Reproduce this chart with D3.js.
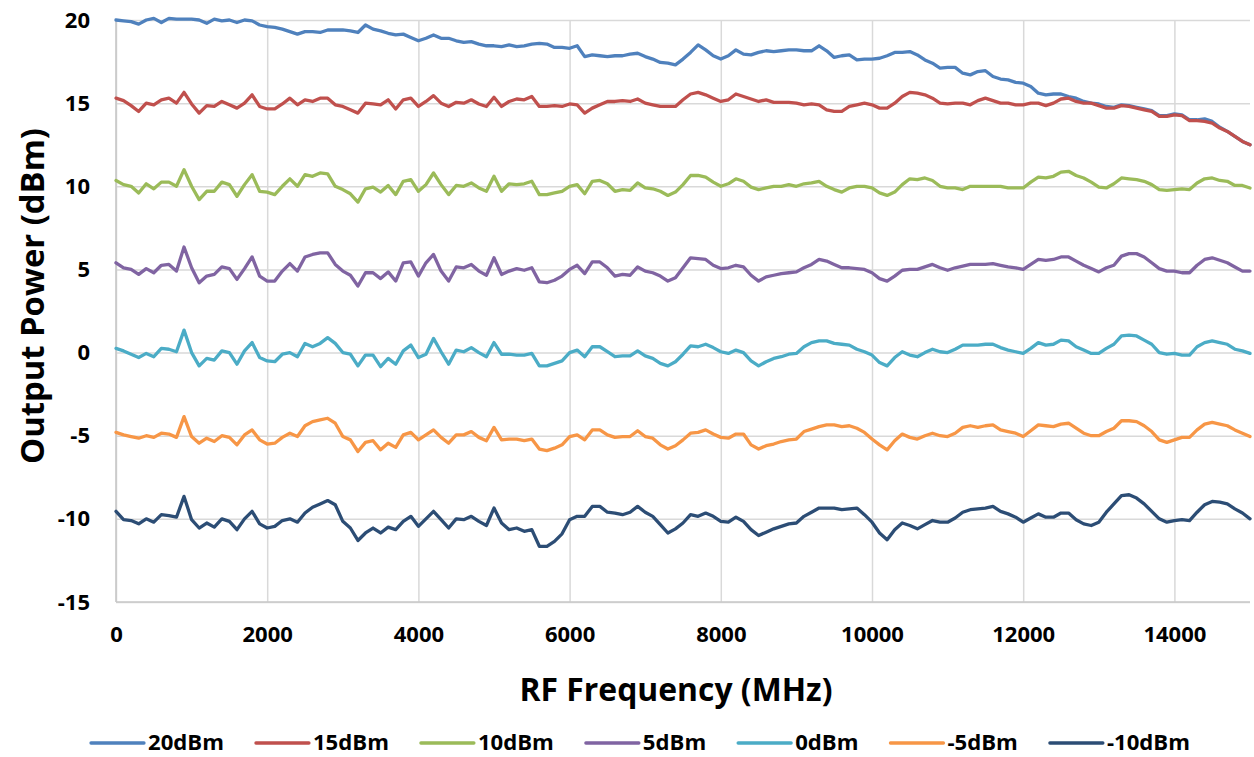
<!DOCTYPE html>
<html>
<head>
<meta charset="utf-8">
<script src="https://cdn.jsdelivr.net/npm/d3@7"></script>
<style>
  body { margin: 0; background: #fff; }
  text { font-family: "Open Sans", sans-serif; font-weight: 700; fill: #000; }
</style>
</head>
<body>
<div id="chart"></div>
<script>
// Data: sweep frequencies (MHz) and measured output power (dBm) per set level
const freq = d3.range(0, 15001, 100);

const p20 = [
  20.0, 19.95, 19.9, 19.75, 20.0, 20.1, 19.85, 20.1, 20.05, 20.05,
  20.05, 20.0, 19.8, 20.05, 19.95, 20.0, 19.85, 20.0, 19.95, 19.7,
  19.6, 19.55, 19.45, 19.3, 19.15, 19.3, 19.3, 19.25, 19.4, 19.4,
  19.4, 19.35, 19.25, 19.7, 19.45, 19.35, 19.2, 19.1, 19.15, 18.95,
  18.75, 18.9, 19.1, 18.9, 18.9, 18.75, 18.65, 18.7, 18.55, 18.45, 18.45,
  18.4, 18.5, 18.4, 18.45, 18.55, 18.6, 18.55, 18.35, 18.35, 18.3,
  18.45, 17.8, 17.9, 17.85, 17.8, 17.85, 17.85, 17.95, 18.0, 17.8,
  17.65, 17.45, 17.4, 17.3, 17.65, 18.05, 18.5, 18.2, 17.85, 17.65,
  17.85, 18.2, 17.95, 17.9, 18.05, 18.15, 18.1, 18.15, 18.2, 18.2,
  18.15, 18.15, 18.45, 18.15, 17.75, 17.85, 17.9, 17.6, 17.65, 17.65,
  17.7, 17.85, 18.05, 18.05, 18.1, 17.9, 17.6, 17.4, 17.1, 17.15,
  17.15, 16.8, 16.7, 16.9, 16.95, 16.6, 16.45, 16.4, 16.25, 16.2,
  16.0, 15.6, 15.5, 15.55, 15.55, 15.4, 15.3, 15.1, 15.0, 14.95,
  14.8, 14.75, 14.9, 14.85, 14.75, 14.65, 14.55, 14.25, 14.25, 14.35,
  14.3, 14.0, 14.0, 14.05, 13.9, 13.55, 13.3, 13.0, 12.7, 12.5
];
const p15 = [
  15.3, 15.15, 14.85, 14.5, 15.0, 14.9, 15.2, 15.3, 15.0, 15.65,
  14.95, 14.4, 14.85, 14.8, 15.1, 14.9, 14.7, 15.0, 15.5, 14.8,
  14.65, 14.65, 14.95, 15.3, 14.9, 15.2, 15.1, 15.3, 15.3, 14.9,
  14.8, 14.6, 14.4, 15.0, 14.95, 14.9, 15.2, 14.65, 15.2, 15.3,
  14.8, 15.1, 15.45, 15.0, 14.8, 15.05, 15.0, 15.2, 14.95, 14.8, 15.35,
  14.8, 15.1, 15.25, 15.2, 15.4, 14.8, 14.8, 14.85, 14.8, 14.95,
  14.9, 14.4, 14.7, 14.9, 15.1, 15.1, 15.15, 15.1, 15.25, 15.0,
  14.9, 14.8, 14.8, 14.8, 15.2, 15.55, 15.65, 15.5, 15.3, 15.1,
  15.2, 15.55, 15.4, 15.25, 15.1, 15.2, 15.05, 15.05, 15.05, 15.0,
  14.9, 14.95, 14.9, 14.6, 14.5, 14.5, 14.8, 14.9, 15.0, 14.9,
  14.7, 14.7, 15.0, 15.4, 15.65, 15.6, 15.5, 15.3, 15.0, 14.95,
  15.0, 15.0, 14.9, 15.15, 15.3, 15.15, 15.0, 15.0, 14.9, 14.9,
  15.0, 15.0, 14.85, 15.0, 15.25, 15.3, 15.1, 15.0, 15.0, 14.85,
  14.7, 14.7, 14.85, 14.8, 14.7, 14.6, 14.5, 14.2, 14.2, 14.3,
  14.25, 13.95, 13.95, 13.9, 13.8, 13.5, 13.3, 13.0, 12.7, 12.5
];
const p10 = [
  10.35, 10.1, 10.0, 9.6, 10.15, 9.85, 10.25, 10.25, 10.0, 11.0,
  10.0, 9.2, 9.7, 9.7, 10.25, 10.1, 9.4, 10.1, 10.7, 9.7,
  9.65, 9.5, 10.0, 10.45, 10.0, 10.7, 10.6, 10.8, 10.75, 10.0,
  9.8, 9.55, 9.05, 9.85, 9.95, 9.65, 10.05, 9.5, 10.3, 10.4,
  9.7, 10.1, 10.8, 10.1, 9.5, 10.05, 10.0, 10.2, 9.9, 9.7, 10.6,
  9.7, 10.15, 10.1, 10.15, 10.3, 9.5, 9.5, 9.6, 9.7, 10.0,
  10.1, 9.55, 10.3, 10.35, 10.15, 9.7, 9.8, 9.75, 10.2, 9.9,
  9.85, 9.7, 9.45, 9.65, 10.1, 10.65, 10.65, 10.55, 10.25, 10.0,
  10.15, 10.45, 10.3, 9.95, 9.8, 9.9, 10.0, 10.0, 10.1, 10.0,
  10.15, 10.2, 10.3, 10.0, 9.8, 9.65, 9.9, 10.0, 10.0, 9.9,
  9.6, 9.45, 9.65, 10.1, 10.45, 10.4, 10.5, 10.35, 10.0, 9.9,
  9.9, 9.8, 10.0, 10.0, 10.0, 10.0, 10.0, 9.9, 9.9, 9.9,
  10.25, 10.55, 10.5, 10.6, 10.85, 10.9, 10.65, 10.5, 10.25, 9.95,
  9.9, 10.15, 10.5, 10.45, 10.4, 10.3, 10.1, 9.8, 9.75, 9.8,
  9.85, 9.8, 10.2, 10.45, 10.5, 10.35, 10.3, 10.05, 10.05, 9.9
];
const p5 = [
  5.4, 5.1, 5.0, 4.7, 5.05, 4.8, 5.25, 5.3, 4.9, 6.35,
  5.1, 4.2, 4.6, 4.7, 5.15, 5.05, 4.4, 5.05, 5.75, 4.6,
  4.3, 4.3, 4.9, 5.35, 4.9, 5.75, 5.9, 6.0, 6.0, 5.3,
  4.9, 4.65, 4.0, 4.8, 4.8, 4.45, 4.85, 4.3, 5.4, 5.45,
  4.6, 5.4, 5.9, 4.9, 4.3, 5.15, 5.1, 5.3, 4.9, 4.65, 5.7,
  4.7, 4.9, 5.05, 4.95, 5.1, 4.25, 4.2, 4.35, 4.6, 5.0,
  5.25, 4.75, 5.45, 5.45, 5.1, 4.6, 4.7, 4.65, 5.15, 4.9,
  4.8, 4.6, 4.3, 4.5, 5.1, 5.7, 5.65, 5.6, 5.25, 5.05,
  5.1, 5.25, 5.15, 4.65, 4.3, 4.55, 4.65, 4.75, 4.8, 4.85,
  5.1, 5.3, 5.6, 5.5, 5.3, 5.1, 5.1, 5.05, 5.0, 4.8,
  4.45, 4.3, 4.6, 4.95, 5.0, 5.0, 5.15, 5.3, 5.1, 4.95,
  5.1, 5.2, 5.3, 5.3, 5.3, 5.35, 5.25, 5.15, 5.1, 5.0,
  5.3, 5.6, 5.55, 5.6, 5.75, 5.75, 5.5, 5.25, 5.05, 4.85,
  5.1, 5.25, 5.8, 5.95, 5.95, 5.75, 5.4, 5.05, 4.9, 4.9,
  4.8, 4.8, 5.25, 5.6, 5.7, 5.55, 5.4, 5.15, 4.9, 4.9
];
const p0 = [
  0.25, 0.1, -0.1, -0.3, -0.05, -0.25, 0.25, 0.2, 0.05, 1.35,
  0.0, -0.8, -0.35, -0.45, 0.1, 0.0, -0.7, 0.1, 0.6, -0.3,
  -0.5, -0.55, -0.1, 0.0, -0.25, 0.55, 0.35, 0.55, 0.9, 0.55,
  0.0, -0.1, -0.8, -0.15, -0.15, -0.85, -0.35, -0.7, 0.1, 0.45,
  -0.3, -0.1, 0.85, 0.05, -0.7, 0.15, 0.05, 0.3, 0.0, -0.25, 0.6,
  -0.1, -0.1, -0.15, -0.15, -0.05, -0.8, -0.8, -0.65, -0.5, 0.0,
  0.15, -0.25, 0.35, 0.35, 0.05, -0.25, -0.2, -0.2, 0.1, -0.2,
  -0.35, -0.65, -0.8, -0.55, -0.1, 0.4, 0.35, 0.5, 0.3, 0.05,
  -0.05, 0.15, 0.0, -0.5, -0.8, -0.55, -0.35, -0.25, -0.1, -0.05,
  0.35, 0.6, 0.7, 0.7, 0.55, 0.5, 0.45, 0.2, 0.05, -0.15,
  -0.6, -0.8, -0.3, 0.05, -0.15, -0.25, 0.0, 0.2, 0.05, 0.0,
  0.2, 0.45, 0.45, 0.45, 0.5, 0.5, 0.3, 0.15, 0.05, -0.05,
  0.25, 0.6, 0.45, 0.5, 0.75, 0.7, 0.35, 0.15, -0.05, -0.05,
  0.25, 0.5, 1.0, 1.05, 1.0, 0.75, 0.5, 0.0, -0.1, -0.05,
  -0.15, -0.15, 0.35, 0.6, 0.7, 0.6, 0.5, 0.2, 0.1, -0.05
];
const pm5 = [
  -4.8, -4.95, -5.05, -5.15, -5.0, -5.1, -4.85, -4.9, -5.1, -3.85,
  -5.05, -5.45, -5.15, -5.35, -5.0, -5.1, -5.55, -4.95, -4.65, -5.25,
  -5.5, -5.45, -5.1, -4.85, -5.05, -4.4, -4.15, -4.05, -3.95, -4.25,
  -5.05, -5.25, -5.95, -5.4, -5.3, -5.85, -5.45, -5.7, -4.95, -4.8,
  -5.25, -4.95, -4.65, -5.1, -5.45, -4.95, -4.95, -4.75, -5.1, -5.3, -4.5,
  -5.25, -5.2, -5.2, -5.3, -5.2, -5.8, -5.9, -5.75, -5.55, -5.05,
  -4.95, -5.25, -4.65, -4.65, -4.95, -5.1, -5.05, -5.05, -4.7, -5.05,
  -5.15, -5.55, -5.8, -5.6, -5.25, -4.85, -4.8, -4.65, -4.9, -5.1,
  -5.15, -4.9, -4.9, -5.55, -5.8, -5.6, -5.5, -5.35, -5.25, -5.2,
  -4.75, -4.6, -4.45, -4.35, -4.35, -4.45, -4.4, -4.55, -4.8, -5.2,
  -5.55, -5.85, -5.3, -4.9, -5.1, -5.2, -5.0, -4.85, -5.0, -5.05,
  -4.85, -4.5, -4.4, -4.5, -4.4, -4.35, -4.65, -4.75, -4.85, -5.05,
  -4.7, -4.35, -4.4, -4.45, -4.3, -4.25, -4.55, -4.85, -5.0, -5.0,
  -4.75, -4.55, -4.1, -4.1, -4.15, -4.4, -4.75, -5.25, -5.4, -5.25,
  -5.1, -5.1, -4.65, -4.3, -4.2, -4.3, -4.4, -4.65, -4.85, -5.05
];
const pm10 = [
  -9.55, -10.05, -10.1, -10.3, -10.0, -10.2, -9.75, -9.8, -9.9, -8.65,
  -10.05, -10.55, -10.25, -10.5, -10.0, -10.15, -10.65, -10.0, -9.55, -10.3,
  -10.55, -10.45, -10.1, -10.0, -10.2, -9.65, -9.3, -9.1, -8.9, -9.15,
  -10.15, -10.55, -11.3, -10.85, -10.55, -10.85, -10.5, -10.65, -10.15, -9.85,
  -10.45, -10.0, -9.55, -10.05, -10.55, -10.0, -10.05, -9.85, -10.15, -10.4, -9.35,
  -10.25, -10.65, -10.55, -10.75, -10.65, -11.65, -11.65, -11.35, -10.9, -10.05,
  -9.85, -9.85, -9.25, -9.25, -9.6, -9.65, -9.75, -9.6, -9.25, -9.6,
  -9.85, -10.35, -10.85, -10.6, -10.25, -9.75, -9.85, -9.65, -9.85, -10.15,
  -10.2, -9.9, -10.15, -10.65, -11.0, -10.8, -10.6, -10.45, -10.3, -10.25,
  -9.85, -9.6, -9.35, -9.35, -9.35, -9.45, -9.4, -9.35, -9.75, -10.2,
  -10.85, -11.25, -10.65, -10.25, -10.4, -10.6, -10.35, -10.1, -10.2, -10.2,
  -9.95, -9.6, -9.45, -9.4, -9.35, -9.25, -9.55, -9.7, -9.9, -10.2,
  -9.95, -9.7, -9.9, -9.9, -9.65, -9.65, -10.05, -10.3, -10.4, -10.2,
  -9.6, -9.1, -8.6, -8.55, -8.75, -9.1, -9.55, -10.0, -10.2, -10.1,
  -10.05, -10.1, -9.6, -9.15, -8.95, -9.0, -9.1, -9.4, -9.65, -10.0
];

const seriesNames = ['20dBm', '15dBm', '10dBm', '5dBm', '0dBm', '-5dBm', '-10dBm'];
const seriesValues = [p20, p15, p10, p5, p0, pm5, pm10];
const seriesColors = ['#4F81BD', '#C0504D', '#9BBB59', '#8064A2', '#4BACC6', '#F79646', '#2C4D75'];

const xTicks = [0, 2000, 4000, 6000, 8000, 10000, 12000, 14000];
const yTicks = [-15, -10, -5, 0, 5, 10, 15, 20];

// Dimensions
const WIDTH = 1254;
const HEIGHT = 757;
const PLOT = { LEFT: 116, RIGHT: 1250, TOP: 20, BOTTOM: 602 };

const svg = d3
  .select('#chart')
  .append('svg')
  .attr('width', WIDTH)
  .attr('height', HEIGHT);

// Scales
const x = d3.scaleLinear().domain([0, 15000]).range([PLOT.LEFT, PLOT.RIGHT]);
const y = d3.scaleLinear().domain([-15, 20]).range([PLOT.BOTTOM, PLOT.TOP]);

// Plain labels: no thousands separator, ASCII minus
const plain = (d) => String(d);

// Gridlines
const gridColor = '#D9D9D9';
svg
  .append('g')
  .attr('transform', `translate(${PLOT.LEFT}, 0)`)
  .call(d3.axisLeft(y).tickValues(yTicks).tickSize(-(PLOT.RIGHT - PLOT.LEFT)).tickFormat(''))
  .call((g) => g.select('.domain').remove())
  .call((g) => g.selectAll('line').attr('stroke', gridColor).attr('stroke-width', 1.5));

svg
  .append('g')
  .attr('transform', `translate(0, ${PLOT.BOTTOM})`)
  .call(d3.axisBottom(x).tickValues(xTicks).tickSize(-(PLOT.BOTTOM - PLOT.TOP)).tickFormat(''))
  .call((g) => g.select('.domain').remove())
  .call((g) => g.selectAll('line').attr('stroke', gridColor).attr('stroke-width', 1.5));

// Axis lines
svg.append('line')
  .attr('x1', PLOT.LEFT).attr('x2', PLOT.LEFT)
  .attr('y1', PLOT.TOP).attr('y2', PLOT.BOTTOM)
  .attr('stroke', '#C8C8C8').attr('stroke-width', 1.6);
svg.append('line')
  .attr('x1', PLOT.LEFT).attr('x2', PLOT.RIGHT)
  .attr('y1', PLOT.BOTTOM).attr('y2', PLOT.BOTTOM)
  .attr('stroke', '#C8C8C8').attr('stroke-width', 1.6);

// Tick labels
const yAxis = svg
  .append('g')
  .attr('transform', `translate(${PLOT.LEFT}, 0)`)
  .call(d3.axisLeft(y).tickValues(yTicks).tickFormat(plain).tickSize(0).tickPadding(26));
yAxis.select('.domain').remove();
yAxis.selectAll('text').style('font-size', '22px').attr('fill', '#000').attr('font-family', null);

const xAxis = svg
  .append('g')
  .attr('transform', `translate(0, ${PLOT.BOTTOM})`)
  .call(d3.axisBottom(x).tickValues(xTicks).tickFormat(plain).tickSize(0).tickPadding(24));
xAxis.select('.domain').remove();
xAxis.selectAll('text').style('font-size', '22px').attr('fill', '#000').attr('font-family', null);

// Fit text to a measured width
function fitWidth(sel, target) {
  const w = sel.node().getComputedTextLength();
  const fs = parseFloat(sel.style('font-size'));
  const size = fs * target / w;
  sel.style('font-size', size + 'px');
  return size;
}

// Axis titles
const xTitle = svg.append('text')
  .attr('x', 676).attr('y', 701)
  .attr('text-anchor', 'middle')
  .style('font-size', '29px')
  .text('RF Frequency (MHz)');
fitWidth(xTitle, 313);

const yTitle = svg.append('text')
  .attr('transform', 'translate(44, 296) rotate(-90)')
  .attr('text-anchor', 'middle')
  .style('font-size', '29px')
  .text('Output Power (dBm)');
fitWidth(yTitle, 336);

// Lines
const line = d3.line()
  .x((d, i) => x(freq[i]))
  .y((d) => y(d));

svg.append('g')
  .selectAll('path')
  .data(seriesValues)
  .enter()
  .append('path')
  .attr('d', line)
  .attr('fill', 'none')
  .attr('stroke', (d, i) => seriesColors[i])
  .attr('stroke-width', 3.3)
  .attr('stroke-linejoin', 'round')
  .attr('stroke-linecap', 'round');

// Legend
const legend = svg.append('g').attr('transform', 'translate(0, 743)');
const probe = legend.append('text').style('font-size', '21px').text(seriesNames[0]);
const legendSize = fitWidth(probe, 76);
probe.remove();

let cursor = 91;
seriesNames.forEach((name, i) => {
  legend.append('line')
    .attr('x1', cursor).attr('x2', cursor + 53)
    .attr('y1', 0).attr('y2', 0)
    .attr('stroke', seriesColors[i])
    .attr('stroke-width', 3.3)
    .attr('stroke-linecap', 'round');
  const t = legend.append('text')
    .attr('x', cursor + 57)
    .attr('y', 7)
    .style('font-size', legendSize + 'px')
    .text(name);
  cursor += 57 + t.node().getComputedTextLength() + 32;
});
</script>
</body>
</html>
